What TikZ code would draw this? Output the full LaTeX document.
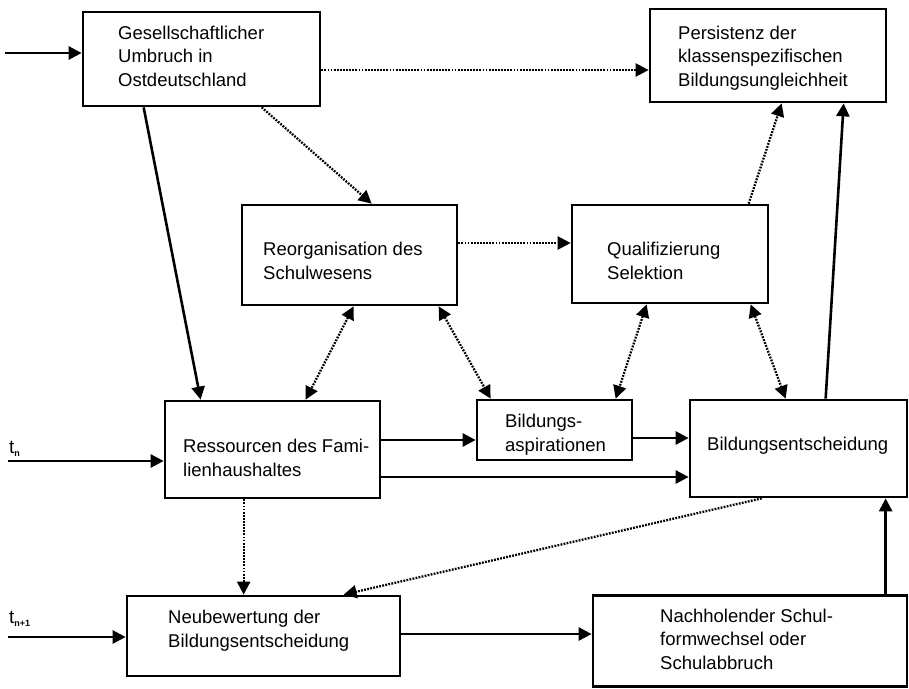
\documentclass[tikz,border=0pt]{standalone}
\usepackage{fontspec}
\setmainfont{Liberation Sans}
\usetikzlibrary{arrows.meta}
\begin{document}
\begin{tikzpicture}[x=1pt,y=-1pt,
  box/.style={draw,line width=2.7pt,inner sep=0pt,minimum width=#1},
  txt/.style={inner sep=0pt,align=left,font=\fontsize{18.5}{23.5}\selectfont},
  tip/.style={-{Triangle[length=13pt,width=13pt]}},
  dtip/.style={{Triangle[length=13pt,width=13pt]}-{Triangle[length=13pt,width=13pt]}},
  solidl/.style={line width=2.6pt},
  dotl/.style={line width=2.3pt,dash pattern=on 1.8pt off 1.3pt},
  tlab/.style={inner sep=0pt,anchor=base west,font=\fontsize{19}{19}\selectfont}
]
\useasboundingbox[fill=white] (0,0) rectangle (909,688);
% boxes
\node[box=237pt,minimum height=94pt] (A) at (201.5,59) {};
\node[box=236pt,minimum height=93pt] (P) at (768,55.5) {};
\node[box=215pt,minimum height=100pt] (R) at (349.5,255) {};
\node[box=196pt,minimum height=98pt] (Q) at (670,254) {};
\node[box=215pt,minimum height=97pt] (F) at (272.5,449.5) {};
\node[box=155pt,minimum height=60pt] (B) at (554.5,430) {};
\node[box=217pt,minimum height=97pt] (E) at (798.5,448.5) {};
\node[box=273pt,minimum height=80pt] (N) at (263.5,636) {};
\node[box=314pt,minimum height=91pt] (S) at (750,641) {};
% texts (anchor = baseline of last line)
\node[txt,anchor=base west] (tA) at (118,86) {Gesellschaftlicher\\Umbruch in\\Ostdeutschland};
\node[txt,anchor=base west] (tP) at (678,86) {Persistenz der\\klassenspezifischen\\Bildungsungleichheit};
\node[txt,anchor=base west] (tR) at (263,279) {Reorganisation des\\Schulwesens};
\node[txt,anchor=base west] (tQ) at (607,279) {Qualifizierung\\Selektion};
\node[txt,anchor=base west] (tF) at (183,476) {Ressourcen des Fami-\\lienhaushaltes};
\node[txt,anchor=base west] (tB) at (505,451) {Bildungs-\\aspirationen};
\node[txt,anchor=base west] (tE) at (707,450) {Bildungsentscheidung};
\node[txt,anchor=base west] (tN) at (168,647) {Neubewertung der\\Bildungsentscheidung};
\node[txt,anchor=base west] (tS) at (660,669) {Nachholender Schul-\\formwechsel oder\\Schulabbruch};
% time labels
\node[tlab] (ltn) at (9,453) {t\raisebox{-3pt}{\fontsize{9}{9}\selectfont\bfseries n}};
\node[tlab] (ltn1) at (9,623) {t\raisebox{-3pt}{\fontsize{9}{9}\selectfont\bfseries n+1}};
% free ends
\coordinate (inA) at (5,53);
\coordinate (inF) at (8,461);
\coordinate (inN) at (8,637);
% connectors
\draw[solidl,tip] (inA) -- (inA -| A.west);
\draw[dotl,tip] ([yshift=-11pt]A.east) coordinate (a1) -- (a1 -| P.west);
\draw[solidl,tip] ([xshift=62pt]A.south west) -- ([xshift=37pt]F.north west);
\draw[dotl,tip] ([xshift=180pt]A.south west) -- ([xshift=131pt]R.north west);
\draw[dotl,tip] ([yshift=12pt]R.east) coordinate (r1) -- (r1 -| Q.west);
\draw[dotl,dtip] ([xshift=113pt]R.south west) -- ([xshift=142pt]F.north west);
\draw[dotl,dtip] ([xshift=198pt]R.south west) -- ([xshift=15pt]B.north west);
\draw[dotl,dtip] ([xshift=76pt]Q.south west) -- ([xshift=140pt]B.north west);
\draw[dotl,dtip] ([xshift=180pt]Q.south west) -- ([xshift=97pt]E.north west);
\draw[dotl,tip] ([xshift=178pt]Q.north west) -- ([xshift=133pt]P.south west);
\draw[solidl,tip] ([xshift=137pt]E.north west) -- ([xshift=195pt]P.south west);
\draw[solidl,tip] ([yshift=9.5pt]F.east) coordinate (f1) -- (f1 -| B.west);
\draw[solidl,tip] ([yshift=-8pt]B.east) coordinate (b1) -- (b1 -| E.west);
\draw[solidl,tip] ([yshift=-27.5pt]F.east) coordinate (f2) -- (f2 -| E.west);
\draw[solidl,tip] (inF) -- (inF -| F.west);
\draw[dotl,tip] ([xshift=80pt]F.south west) coordinate (f3) -- (f3 |- N.north);
\draw[dotl,tip] ([xshift=73pt]E.south west) -- ([xshift=218pt]N.north west);
\draw[solidl,tip] (inN) -- (inN -| N.west);
\draw[solidl,tip] ([yshift=2pt]N.east) coordinate (n1) -- (n1 -| S.west);
\draw[solidl,tip] ([xshift=294pt]S.north west) coordinate (s1) -- (s1 |- E.south);
\end{tikzpicture}
\end{document}
